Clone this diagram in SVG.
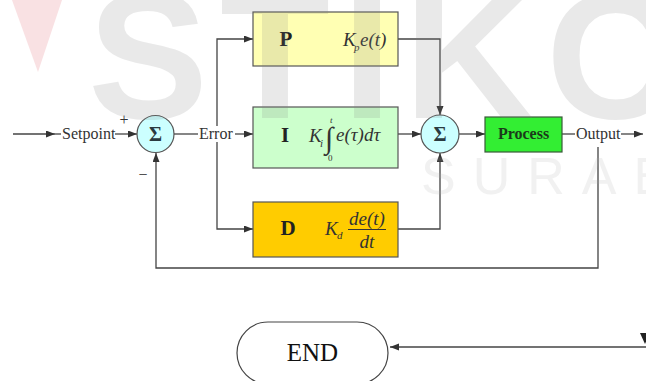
<svg xmlns="http://www.w3.org/2000/svg" width="646" height="381" viewBox="0 0 646 381">
<defs>
<marker id="arr" markerUnits="userSpaceOnUse" markerWidth="10" markerHeight="8" refX="9" refY="3.5" orient="auto">
<path d="M0,0 L9,3.5 L0,7 z" fill="#333"/>
</marker>
<style>
.ln{fill:none;stroke:#444;stroke-width:1.3}
.box{stroke:#555;stroke-width:1.2}
.lbl{font-family:"Liberation Serif",serif;font-size:16px;fill:#333}
.big{font-family:"Liberation Serif",serif;font-weight:bold;font-size:21px;fill:#222}
.math{font-family:"Liberation Serif",serif;font-style:italic;font-size:19px;fill:#333}
.sub{font-family:"Liberation Serif",serif;font-style:italic;font-size:11px;fill:#333}
.sig{font-family:"Liberation Serif",serif;font-weight:bold;font-size:20px;fill:#2a3a40;text-anchor:middle}
.sum{fill:#ccffff;stroke:#555;stroke-width:1.2}
</style>
</defs>
<rect width="646" height="381" fill="#fff"/>

<g id="connectors">
<path class="ln" d="M13,134 H55" marker-end="url(#arr)"/>
<path class="ln" d="M55,134 H61"/>
<path class="ln" d="M115,134 H137" marker-end="url(#arr)"/>
<path class="ln" d="M174,134 H198"/>
<path class="ln" d="M235,134 H253" marker-end="url(#arr)"/>
<path class="ln" d="M217,126 V39 H253" marker-end="url(#arr)"/>
<path class="ln" d="M217,142 V229 H253" marker-end="url(#arr)"/>
<path class="ln" d="M398,39 H440 V115" marker-end="url(#arr)"/>
<path class="ln" d="M398,134 H421" marker-end="url(#arr)"/>
<path class="ln" d="M398,229 H440 V153" marker-end="url(#arr)"/>
<path class="ln" d="M459,134 H485" marker-end="url(#arr)"/>
<path class="ln" d="M562,134 H575"/>
<path class="ln" d="M621,134 H643" marker-end="url(#arr)"/>
<path class="ln" d="M598,147 V268 H156 V153" marker-end="url(#arr)"/>
<path class="ln" d="M646,347 H390" marker-end="url(#arr)"/>
<path d="M640,333 L650,333 L645,344 z" fill="#222"/>
<text class="lbl" x="62" y="139">Setpoint</text>
<text class="lbl" x="199" y="139">Error</text>
<text class="lbl" x="576" y="139">Output</text>
<text class="lbl" x="124" y="125" font-size="13" text-anchor="middle">+</text>
<text class="lbl" x="143" y="180" font-size="14" text-anchor="middle">−</text>
</g>

<g id="sum1">
<circle class="sum" cx="155.5" cy="134" r="18.5"/>
<text class="sig" x="155.5" y="141">Σ</text>
</g>

<g id="sum2">
<circle class="sum" cx="440" cy="134" r="19"/>
<text class="sig" x="440" y="141">Σ</text>
</g>

<g id="nodeP">
<rect class="box" x="253" y="12" width="145" height="54" fill="#ffffb3"/>
<text class="big" x="286" y="46" text-anchor="middle">P</text>
<text class="math" x="343" y="46">K</text>
<text class="sub" x="354" y="51">p</text>
<text class="math" x="360" y="46">e(t)</text>
</g>

<g id="nodeI">
<rect class="box" x="253" y="107" width="145" height="61" fill="#ccffcc"/>
<text class="big" x="285" y="142" text-anchor="middle">I</text>
<text class="math" x="309" y="142">K</text>
<text class="sub" x="320" y="147">i</text>
<text x="325" y="148" style="font-family:'Liberation Serif',serif;font-size:30px;fill:#333">∫</text>
<text class="sub" x="330" y="123" style="font-size:9px">t</text>
<text x="328" y="161" style="font-family:'Liberation Serif',serif;font-size:9px;fill:#333">0</text>
<text class="math" x="336" y="141">e(τ)dτ</text>
</g>

<g id="nodeD">
<rect class="box" x="253" y="202" width="145" height="55" fill="#ffcc00"/>
<text class="big" x="288" y="235" text-anchor="middle">D</text>
<text class="math" x="325" y="235">K</text>
<text class="sub" x="337" y="239">d</text>
<text class="math" x="367" y="225" text-anchor="middle">de(t)</text>
<line x1="348" y1="229.5" x2="386" y2="229.5" stroke="#333" stroke-width="1"/>
<text class="math" x="367" y="248" text-anchor="middle">dt</text>
</g>

<g id="nodeProcess">
<rect x="485" y="117" width="77" height="35" fill="#33ee33" stroke="#3a5a3a" stroke-width="1.2"/>
<text x="523.5" y="139" text-anchor="middle" font-family="Liberation Serif, serif" font-weight="bold" font-size="16" fill="#1a3a1a">Process</text>
</g>

<g id="nodeEND">
<rect x="237" y="322" width="151" height="62" rx="31" ry="31" fill="#fff" stroke="#444" stroke-width="1.2"/>
<text x="312.5" y="361" text-anchor="middle" font-family="Liberation Serif, serif" font-size="25" fill="#111">END</text>
</g>

<g id="watermark" opacity="0.17">
<polygon points="12,0 62,0 38,72" fill="#e0525e"/>
<text x="88" y="118" font-family="Liberation Sans, sans-serif" font-weight="bold" font-size="180" letter-spacing="12" fill="#808080">STIKOM</text>
<text x="421" y="194" font-family="Liberation Sans, sans-serif" font-size="52" letter-spacing="17" fill="#b0b0b0">SURABAYA</text>
</g>
</svg>
